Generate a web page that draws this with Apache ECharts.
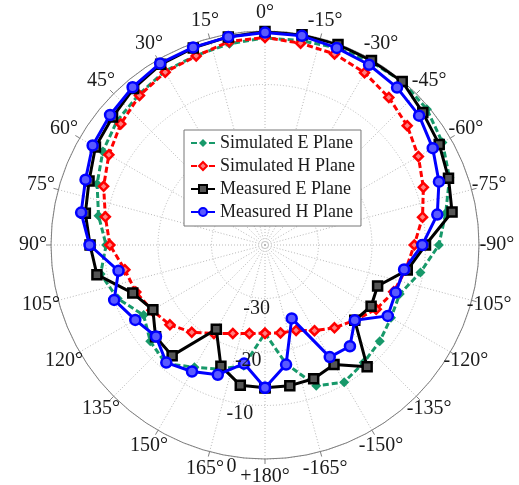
<!DOCTYPE html>
<html><head><meta charset="utf-8">
<script src="https://cdn.jsdelivr.net/npm/echarts@6/dist/echarts.min.js"></script>
<style>html,body{margin:0;padding:0;background:#fff}#c{width:519px;height:485px}</style>
</head><body><div id="c"></div>
<script>
// Angles in degrees (0 = top, positive = counter-clockwise / left side)
const angles = [-180,-170,-160,-150,-140,-130,-120,-110,-100,-90,-80,-70,-60,-50,-40,-30,-20,-10,
                0,10,20,30,40,50,60,70,80,90,100,110,120,130,140,150,160,170,180];
// Normalized gain in dB
const simulatedE = [-23.5,-17.5,-12.0,-10.4,-11.3,-12.0,-12.8,-13.2,-10.5,-7.5,-5.7,-3.3,-1.7,-0.5,-0.1,-0.4,-0.8,-1.2,
                    -1.3,-1.8,-2.3,-2.5,-3.3,-3.9,-5.0,-6.6,-8.4,-10.3,-8.8,-10.7,-13.8,-12.0,-11.1,-13.6,-15.3,-17.1,-23.5];
const simulatedH = [-23.5,-23.3,-23.0,-21.5,-19.8,-18.1,-16.0,-14.4,-13.3,-12.1,-10.1,-8.5,-6.9,-5.3,-4.0,-2.8,-2.0,-1.7,
                    -1.2,-1.4,-2.4,-2.7,-3.5,-4.8,-6.3,-7.9,-9.7,-11.0,-13.4,-14.3,-15.6,-16.8,-18.7,-20.9,-22.4,-23.2,-23.5];
const measuredE = [-13.3,-13.3,-13.4,-14.2,-10.3,-18.1,-17.1,-17.6,-13.0,-10.0,-4.5,-3.5,-2.4,-1.5,-0.1,-0.2,-0.1,-0.1,
                   -0.1,-0.5,-0.8,-1.0,-1.8,-2.8,-3.4,-5.0,-5.9,-7.3,-8.1,-13.7,-15.8,-13.3,-13.0,-21.8,-15.9,-13.4,-13.3];
const measuredH = [-13.3,-17.3,-25.4,-15.8,-15.3,-18.1,-13.5,-14.0,-13.6,-10.6,-7.3,-5.4,-3.8,-2.4,-1.6,-1.1,-0.8,-0.3,
                   -0.3,-0.5,-0.7,-0.8,-1.5,-2.2,-2.8,-4.3,-5.1,-7.2,-12.2,-10.0,-12.0,-13.4,-11.3,-12.7,-14.2,-17.5,-13.3];
const seriesNames = ['Simulated E Plane','Simulated H Plane','Measured E Plane','Measured H Plane'];
// Tick labels
const angleTickValues = [-180,-165,-150,-135,-120,-105,-90,-75,-60,-45,-30,-15,0,15,30,45,60,75,90,105,120,135,150,165];
const angleTickLabels = ['+180°','-165°','-150°','-135°','-120°','-105°','-90°','-75°','-60°','-45°','-30°','-15°',
                         '0°','15°','30°','45°','60°','75°','90°','105°','120°','135°','150°','165°'];
const radialTickValues = [-30,-20,-10,0];
const radialTickLabels = ['-30','-20','-10','0'];

function pairs(vals){ return vals.map((v,i)=>[v, angles[i]]); }
const FONT = '"Liberation Serif", "DejaVu Serif", serif';
const TXT = '#1a1a1a';
const CX = 265, CY = 245, R = 214;
const RADIAL_LABEL_ANGLE = 171;
const labelText = {show:true, fontFamily:FONT, fontSize:20, color:TXT, opacity:1,
                   textBorderWidth:0, textBorderColor:'transparent', textShadowBlur:0};

const chart = echarts.init(document.getElementById('c'), null, {renderer:'canvas'});
chart.setOption({
  animation:false,
  backgroundColor:'#fff',
  polar:[{center:[CX,CY], radius:R}, {center:[CX,CY], radius:R+18}],
  angleAxis:[{
    polarIndex:0, type:'value', min:-180, max:180, interval:15, startAngle:270, clockwise:false,
    axisLine:{show:true, lineStyle:{color:'#7f7f7f', width:1}},
    axisTick:{show:true, length:5, lineStyle:{color:'#7f7f7f'}},
    axisLabel:{show:false},
    splitLine:{show:true, lineStyle:{color:'#b8b8b8', type:[1,2], width:1}}
  },{
    polarIndex:1, type:'value', min:-180, max:180, interval:15, startAngle:270, clockwise:false, show:false
  }],
  radiusAxis:[{
    polarIndex:0, type:'value', min:-40, max:0, interval:10,
    axisLine:{show:false}, axisTick:{show:false}, axisLabel:{show:false},
    splitLine:{show:true, lineStyle:{color:'#b8b8b8', type:[1,2], width:1}}
  },{
    polarIndex:1, type:'value', min:0, max:1, show:false
  }],
  legend:{
    orient:'vertical', left:184, top:130, padding:[4,6,5,6], itemGap:5,
    itemWidth:24, itemHeight:10,
    backgroundColor:'#fff', borderColor:'#777', borderWidth:1,
    textStyle:{fontFamily:FONT, fontSize:18, color:TXT},
    data:seriesNames
  },
  series:[
    {name:seriesNames[0], type:'line', coordinateSystem:'polar', polarIndex:0, data:pairs(simulatedE),
     symbol:'diamond', symbolSize:10, z:2,
     lineStyle:{color:'#17996a', width:3, type:[6,3]}, itemStyle:{color:'#17996a'}},
    {name:seriesNames[1], type:'line', coordinateSystem:'polar', polarIndex:0, data:pairs(simulatedH),
     symbol:'diamond', symbolSize:9, z:3,
     lineStyle:{color:'#ff0000', width:3, type:[6,3]}, itemStyle:{color:'#ff8080', borderColor:'#ff0000', borderWidth:2.5}},
    {name:seriesNames[2], type:'line', coordinateSystem:'polar', polarIndex:0, data:pairs(measuredE),
     symbol:'rect', symbolSize:9, z:4,
     lineStyle:{color:'#000000', width:3}, itemStyle:{color:'#555555', borderColor:'#000000', borderWidth:2.5}},
    {name:seriesNames[3], type:'line', coordinateSystem:'polar', polarIndex:0, data:pairs(measuredH),
     symbol:'circle', symbolSize:10, z:5,
     lineStyle:{color:'#0000ff', width:3}, itemStyle:{color:'#5a5aff', borderColor:'#0000ff', borderWidth:2.5}},
    // angle tick labels, centred on a ring just outside the plot
    {type:'scatter', coordinateSystem:'polar', polarIndex:1, silent:true, z:10,
     emphasis:{disabled:true},
     data:angleTickValues.map(a=>[1,a]), symbolSize:1, itemStyle:{color:'rgba(255,255,255,0)', opacity:1},
     label:Object.assign({position:'inside',
       formatter:function(p){ return angleTickLabels[p.dataIndex]; }}, labelText)},
    // radial tick labels
    {type:'scatter', coordinateSystem:'polar', polarIndex:0, silent:true, z:10,
     emphasis:{disabled:true},
     data:radialTickValues.map(v=>[v,RADIAL_LABEL_ANGLE]), symbolSize:1, itemStyle:{color:'rgba(255,255,255,0)', opacity:1},
     label:Object.assign({position:'bottom', distance:0,
       formatter:function(p){ return radialTickLabels[p.dataIndex]; }}, labelText)}
  ]
});
</script></body></html>
